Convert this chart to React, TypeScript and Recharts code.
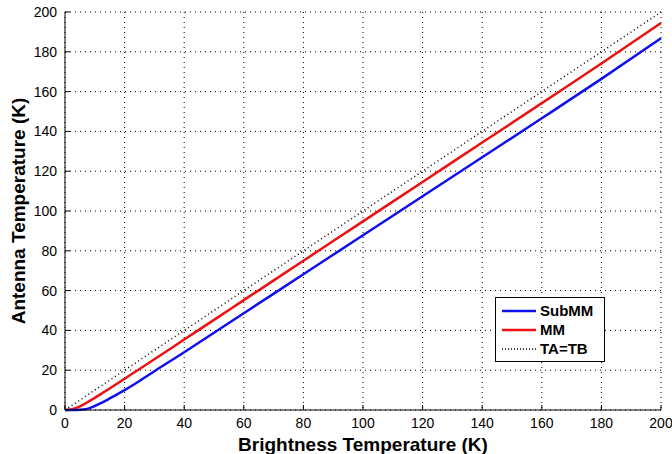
import { LineChart, Line, XAxis, YAxis, CartesianGrid } from 'recharts'

const brightness = [0, 2, 4, 6, 8, 10, 12, 15, 20, 25, 30, 40, 50, 60, 80, 100, 120, 140, 160, 180, 200]
const subMM = [0, 0, 0, 0.2, 0.8, 2, 3.4, 5.8, 10, 14.6, 19.5, 29, 38.8, 48.6, 68.2, 87.8, 107.4, 127, 146.6, 166.4, 186.8]
const mm = [0, 0.3, 1.2, 2.6, 4.3, 6.1, 8, 10.8, 15.7, 20.6, 25.5, 35.4, 45.3, 55.2, 75, 94.8, 114.6, 134.4, 154.2, 174.1, 194.5]
const taEqTb = [0, 2, 4, 6, 8, 10, 12, 15, 20, 25, 30, 40, 50, 60, 80, 100, 120, 140, 160, 180, 200]
const ticks = [0, 20, 40, 60, 80, 100, 120, 140, 160, 180, 200]

const data = brightness.map((tb, i) => ({ tb, subMM: subMM[i], mm: mm[i], ta: taEqTb[i] }))

const font = '"Liberation Sans", Arial, sans-serif'

const legendItems = [
    { name: 'SubMM', color: '#1010ee', dash: undefined },
    { name: 'MM', color: '#ee1010', dash: undefined },
    { name: 'TA=TB', color: '#000', dash: '1 2' },
]

const LegendBox = () => (
    <div style={{ position: 'absolute', left: 495, top: 297, border: '1px solid #000', background: '#fff', width: 108, padding: '3px 0', fontFamily: font, fontSize: 15, fontWeight: 'bold' }}>
        {legendItems.map(e => (
            <div key={e.name} style={{ display: 'flex', alignItems: 'center', height: 19 }}>
                <svg width={40} height={10} style={{ marginLeft: 4 }}>
                    <line x1={2} y1={5} x2={36} y2={5} stroke={e.color} strokeWidth={e.dash ? 1.5 : 2.5} strokeDasharray={e.dash} />
                </svg>
                <span>{e.name}</span>
            </div>
        ))}
    </div>
)

const YTitle = (props: any) => {
    const { viewBox } = props
    const cx = viewBox.x + 3
    const cy = viewBox.y + viewBox.height / 2
    return <text x={cx} y={cy} transform={`rotate(-90 ${cx} ${cy})`} textAnchor='middle' dominantBaseline='central'
        fill='#000' fontSize={19} fontWeight='bold' fontFamily={font}>Antenna Temperature (K)</text>
}

const tickStyle = { fill: '#000', fontSize: 14, fontFamily: font }
const blank = () => ''

const App = () => {
    return (<div style={{ position: 'relative', width: 672, height: 454 }}>
        <style>{'body{margin:0;background:#fff}'}</style>
        <LineChart width={672} height={454} data={data} margin={{ top: 12, right: 11, left: 15, bottom: 14 }}>
            <CartesianGrid stroke='#000' strokeDasharray='1 4' strokeWidth={1} />
            <XAxis dataKey='tb' type='number' domain={[0, 200]} ticks={ticks} tickSize={-5} tickMargin={13}
                stroke='#000' tick={tickStyle} height={30}
                label={{ value: 'Brightness Temperature (K)', position: 'insideBottom', offset: -11, fill: '#000', fontSize: 19, fontWeight: 'bold', fontFamily: font }} />
            <XAxis xAxisId='top' orientation='top' dataKey='tb' type='number' domain={[0, 200]} ticks={ticks}
                tickSize={-5} height={0} stroke='#000' tickFormatter={blank} />
            <YAxis type='number' domain={[0, 200]} ticks={ticks} tickSize={-5} tickMargin={13} width={50}
                stroke='#000' tick={tickStyle} label={<YTitle />} />
            <YAxis yAxisId='right' orientation='right' type='number' domain={[0, 200]} ticks={ticks}
                tickSize={-5} width={0} stroke='#000' tickFormatter={blank} />
            <Line type='monotone' dataKey='ta' stroke='#000' strokeWidth={1.5} strokeDasharray='1 3' dot={false} isAnimationActive={false} name='TA=TB' />
            <Line type='monotone' dataKey='mm' stroke='#ee1010' strokeWidth={2.5} dot={false} isAnimationActive={false} name='MM' />
            <Line type='monotone' dataKey='subMM' stroke='#1010ee' strokeWidth={2.5} dot={false} isAnimationActive={false} name='SubMM' />
        </LineChart>
        <LegendBox />
    </div>);
}

export default App;
